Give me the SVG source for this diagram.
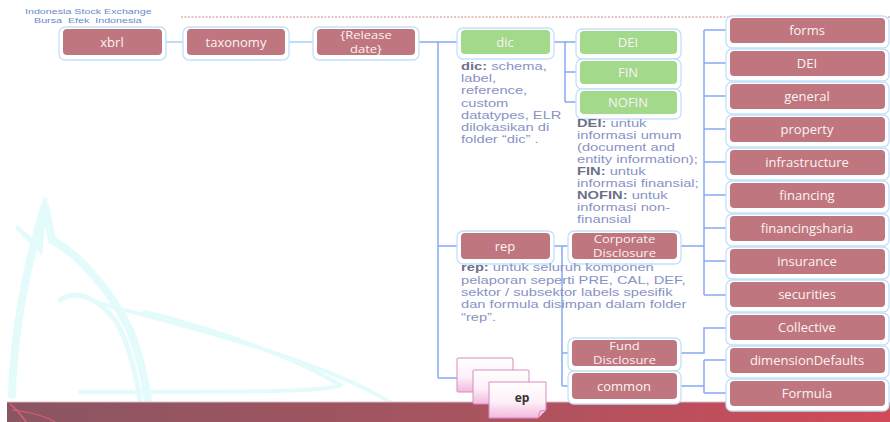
<svg xmlns="http://www.w3.org/2000/svg" width="890" height="422" viewBox="0 0 890 422">
<defs>
<style>
.sh{fill:#ffffff;stroke:#c3e1fa;stroke-width:1.3}
.r{fill:#c0767e}
.g{fill:#a2d98b}
.t{font-family:"Open Sans","Liberation Sans",sans-serif;font-size:13px;fill:#fbf3f3;text-anchor:middle}
.t2{font-family:"Open Sans","Liberation Sans",sans-serif;font-size:10px;fill:#fbf3f3;text-anchor:middle}
.d{font-family:"Liberation Sans",Arial,sans-serif;font-size:10.5px;fill:#8893c4}
.hd{font-family:"Liberation Sans",Arial,sans-serif;font-size:8px;fill:#6a8acb}
.b{font-weight:bold;fill:#6e7088}
.c{fill:none;stroke:#86aaf2;stroke-width:1.5}
.c2{fill:none;stroke:#a6d2f6;stroke-width:1.5}
.sw{fill:none;stroke:#e4fbfb;stroke-linecap:round}
.pg{fill:url(#pgG);stroke:#d98cc0;stroke-width:1}
</style>
<linearGradient id="band" x1="0" y1="0" x2="1" y2="0">
<stop offset="0" stop-color="#8a5562"/>
<stop offset="0.5" stop-color="#a65560"/>
<stop offset="1" stop-color="#d04a58"/>
</linearGradient>
<linearGradient id="pgG" x1="0" y1="0" x2="0" y2="1">
<stop offset="0" stop-color="#ffffff"/>
<stop offset="0.55" stop-color="#fdf0f8"/>
<stop offset="1" stop-color="#f2b8df"/>
</linearGradient>
</defs>
<rect width="890" height="422" fill="#ffffff"/>
<g id="background">
<path class="sw" stroke-width="8" d="M12 395 C14 330 25 270 45 205 L52 240 C80 255 110 290 130 330 C140 355 145 380 148 400"/>
<path class="sw" stroke-width="5" d="M18 228 L40 250 L45 200"/>
<path class="sw" stroke-width="5" d="M60 300 C75 290 95 295 115 320 C128 340 135 370 140 400"/>
<path class="sw" stroke-width="4" d="M95 302 C200 330 320 360 390 402"/>
<path class="sw" stroke-width="4" d="M145 312 C220 330 300 360 340 385 C330 392 250 392 80 392"/>
</g>
<g id="header">
<g transform="translate(25,0) scale(1.34,1)"><text class="hd" x="0" y="13.8">Indonesia Stock Exchange</text></g>
<g transform="translate(34,0) scale(1.34,1)"><text class="hd" x="0" y="22.8" xml:space="preserve">Bursa  Efek  Indonesia</text></g>
<line x1="181" y1="17" x2="890" y2="17" stroke="#c98c8c" stroke-width="1" stroke-dasharray="2,1.5"/>
</g>
<g id="band-footer">
<rect x="7" y="402" width="883" height="20" fill="url(#band)"/>
<line x1="7" y1="402" x2="890" y2="402" stroke="#d8c0c8" stroke-width="1"/>
<path d="M10 404 C18 410 22 416 26 422" fill="none" stroke="#e0607a" stroke-width="1.5"/>
<path d="M12 410 C30 412 45 416 55 422" fill="none" stroke="#e0607a" stroke-width="1"/>
</g>
<g id="connectors">
<path class="c2" d="M162 42 H187 M285 42 H317"/>
<path class="c" d="M415 42 H461 M438 42 V378 M438 246 H461 M438 378 H457"/>
<path class="c" d="M550 42 H580 M565 42 V102 M565 72 H580 M565 102 H580"/>
<path class="c" d="M550 246 H572 M562 246 V386 M562 353 H572 M562 386 H572"/>
<path class="c" d="M677 246 H704 M704 30 V295 M704 30 H730 M704 63 H730 M704 96 H730 M704 129 H730 M704 162 H730 M704 195 H730 M704 228 H730 M704 261 H730 M704 295 H730"/>
<path class="c" d="M677 353 H704 V328 H730"/>
<path class="c" d="M677 386 H704 M704 360 V393 M704 360 H730 M704 393 H730"/>
</g>
<g id="n-xbrl"><rect class="sh" x="59" y="27" width="107" height="33" rx="6"/><rect class="r" x="63" y="29" width="99" height="26" rx="4"/><text class="t" x="112" y="47">xbrl</text></g>
<g id="n-taxonomy"><rect class="sh" x="183" y="27" width="106" height="33" rx="6"/><rect class="r" x="187" y="29" width="98" height="26" rx="4"/><text class="t" x="236" y="47">taxonomy</text></g>
<g id="n-release"><rect class="sh" x="313" y="27" width="106" height="33" rx="6"/><rect class="r" x="317" y="29" width="98" height="26" rx="4"/><g transform="translate(366,0) scale(1.3,1)"><text class="t2" x="0" y="38.6"><tspan x="0">{Release</tspan><tspan x="0" dy="14">date}</tspan></text></g></g>
<g id="n-dic"><rect class="sh" x="457" y="28" width="97" height="31" rx="6"/><rect class="g" x="461" y="30" width="89" height="24" rx="4"/><text class="t" x="505" y="47">dic</text></g>
<g id="n-dei-g"><rect class="sh" x="576" y="29" width="105" height="30" rx="6"/><rect class="g" x="580" y="31" width="97" height="23" rx="4"/><text class="t" x="628" y="47">DEI</text></g>
<g id="n-fin"><rect class="sh" x="576" y="59" width="105" height="30" rx="6"/><rect class="g" x="580" y="61" width="97" height="23" rx="4"/><text class="t" x="628" y="77">FIN</text></g>
<g id="n-nofin"><rect class="sh" x="576" y="89" width="105" height="30" rx="6"/><rect class="g" x="580" y="91" width="97" height="23" rx="4"/><text class="t" x="628" y="107">NOFIN</text></g>
<g id="n-rep"><rect class="sh" x="457" y="231" width="97" height="33" rx="6"/><rect class="r" x="461" y="233" width="89" height="26" rx="4"/><text class="t" x="505" y="251">rep</text></g>
<g id="n-corporate"><rect class="sh" x="568" y="231" width="113" height="33" rx="6"/><rect class="r" x="572" y="233" width="105" height="26" rx="4"/><g transform="translate(624.5,0) scale(1.3,1)"><text class="t2" x="0" y="243.2"><tspan x="0">Corporate</tspan><tspan x="0" dy="14">Disclosure</tspan></text></g></g>
<g id="n-fund"><rect class="sh" x="568" y="338" width="113" height="33" rx="6"/><rect class="r" x="572" y="340" width="105" height="26" rx="4"/><g transform="translate(624.5,0) scale(1.3,1)"><text class="t2" x="0" y="349.8"><tspan x="0">Fund</tspan><tspan x="0" dy="14">Disclosure</tspan></text></g></g>
<g id="n-common"><rect class="sh" x="568" y="371" width="113" height="33" rx="6"/><rect class="r" x="572" y="373" width="105" height="26" rx="4"/><text class="t" x="624" y="391">common</text></g>
<g id="n-forms"><rect class="sh" x="726" y="16" width="163" height="32" rx="6"/><rect class="r" x="730" y="18" width="155" height="25" rx="4"/><text class="t" x="807" y="35">forms</text></g>
<g id="n-dei"><rect class="sh" x="726" y="49" width="163" height="32" rx="6"/><rect class="r" x="730" y="51" width="155" height="25" rx="4"/><text class="t" x="807" y="68">DEI</text></g>
<g id="n-general"><rect class="sh" x="726" y="82" width="163" height="32" rx="6"/><rect class="r" x="730" y="84" width="155" height="25" rx="4"/><text class="t" x="807" y="101">general</text></g>
<g id="n-property"><rect class="sh" x="726" y="115" width="163" height="32" rx="6"/><rect class="r" x="730" y="117" width="155" height="25" rx="4"/><text class="t" x="807" y="134">property</text></g>
<g id="n-infrastructure"><rect class="sh" x="726" y="148" width="163" height="32" rx="6"/><rect class="r" x="730" y="150" width="155" height="25" rx="4"/><text class="t" x="807" y="167">infrastructure</text></g>
<g id="n-financing"><rect class="sh" x="726" y="181" width="163" height="32" rx="6"/><rect class="r" x="730" y="183" width="155" height="25" rx="4"/><text class="t" x="807" y="200">financing</text></g>
<g id="n-financingsharia"><rect class="sh" x="726" y="214" width="163" height="32" rx="6"/><rect class="r" x="730" y="216" width="155" height="25" rx="4"/><text class="t" x="807" y="233">financingsharia</text></g>
<g id="n-insurance"><rect class="sh" x="726" y="247" width="163" height="32" rx="6"/><rect class="r" x="730" y="249" width="155" height="25" rx="4"/><text class="t" x="807" y="266">insurance</text></g>
<g id="n-securities"><rect class="sh" x="726" y="280" width="163" height="32" rx="6"/><rect class="r" x="730" y="282" width="155" height="25" rx="4"/><text class="t" x="807" y="299">securities</text></g>
<g id="n-collective"><rect class="sh" x="726" y="313" width="163" height="32" rx="6"/><rect class="r" x="730" y="315" width="155" height="25" rx="4"/><text class="t" x="807" y="332">Collective</text></g>
<g id="n-dimensiondefaults"><rect class="sh" x="726" y="346" width="163" height="32" rx="6"/><rect class="r" x="730" y="348" width="155" height="25" rx="4"/><text class="t" x="807" y="365">dimensionDefaults</text></g>
<g id="n-formula"><rect class="sh" x="726" y="379" width="163" height="32" rx="6"/><rect class="r" x="730" y="381" width="155" height="25" rx="4"/><text class="t" x="807" y="398">Formula</text></g>
<g id="n-ep">
<rect class="pg" x="457" y="358" width="56" height="34" rx="1"/>
<rect class="pg" x="473" y="370" width="56" height="34" rx="1"/>
<path class="pg" d="M489 382 H546 V410 L538 418 H489 Z"/>
<path d="M538 418 L540 411 L546 410" fill="#f0c0dc" stroke="#d98cc0" stroke-width="1"/>
<text x="522" y="402" font-family="Open Sans,Liberation Sans,sans-serif" font-size="12" font-weight="bold" fill="#333333" text-anchor="middle">ep</text>
</g>
<g id="note-dic" transform="translate(461,0) scale(1.4,1)">
<text class="d" x="0" y="70"><tspan class="b">dic:</tspan> schema,<tspan x="0" dy="12.2">label,</tspan><tspan x="0" dy="12.2">reference,</tspan><tspan x="0" dy="12.2">custom</tspan><tspan x="0" dy="12.2">datatypes, ELR</tspan><tspan x="0" dy="12.2">dilokasikan di</tspan><tspan x="0" dy="12.2">folder “dic” .</tspan></text>
</g>
<g id="note-dei" transform="translate(577,0) scale(1.4,1)">
<text class="d" x="0" y="127.5"><tspan class="b">DEI:</tspan> untuk<tspan x="0" dy="12">informasi umum</tspan><tspan x="0" dy="12">(document and</tspan><tspan x="0" dy="12">entity information);</tspan><tspan x="0" dy="12" class="b">FIN:</tspan> untuk<tspan x="0" dy="12">informasi finansial;</tspan><tspan x="0" dy="12" class="b">NOFIN:</tspan> untuk<tspan x="0" dy="12">informasi non-</tspan><tspan x="0" dy="12">finansial</tspan></text>
</g>
<g id="note-rep" transform="translate(461,0) scale(1.4,1)">
<text class="d" x="0" y="271.5"><tspan class="b">rep:</tspan> untuk seluruh komponen<tspan x="0" dy="12.3">pelaporan seperti PRE, CAL, DEF,</tspan><tspan x="0" dy="12.3">sektor / subsektor labels spesifik</tspan><tspan x="0" dy="12.3">dan formula disimpan dalam folder</tspan><tspan x="0" dy="12.3">“rep”.</tspan></text>
</g>
</svg>
